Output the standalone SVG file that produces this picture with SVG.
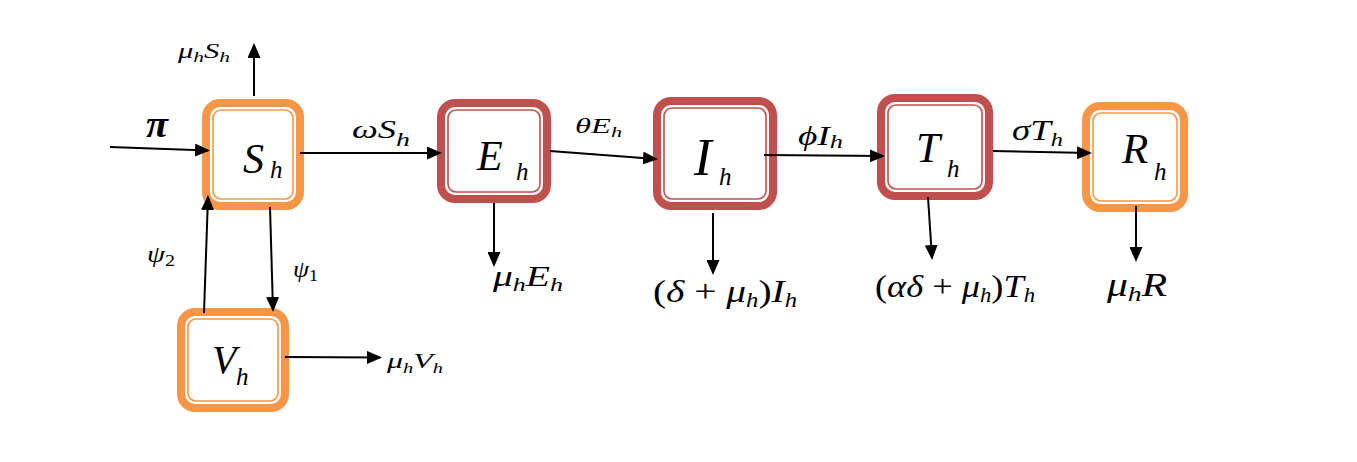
<svg xmlns="http://www.w3.org/2000/svg" width="1357" height="462" viewBox="0 0 1357 462">
<defs>
<marker id="ah" viewBox="0 0 15 13" refX="13" refY="6.5" markerWidth="15" markerHeight="13" orient="auto" markerUnits="userSpaceOnUse">
<path d="M0,0 L15,6.5 L0,13 z" fill="#000"/>
</marker>
<style>
.o{fill:#fff;stroke-width:8}
.i{fill:none;stroke-width:1.6}
.or .o,.or .i{stroke:#F79646}
.rd .o,.rd .i{stroke:#C0504D}
#connectors line{stroke:#000;stroke-width:2;marker-end:url(#ah)}
text{font-family:"Liberation Serif","Times New Roman",serif;font-style:italic;fill:#000}
.n{font-size:42px}
.ns{font-size:25px}
.up{font-style:normal}
</style>
</defs>
<rect width="1357" height="462" fill="#fff"/>
<g id="S" class="or">
<rect class="o" x="206" y="103" width="94" height="103" rx="14"/>
<rect class="i" x="213" y="110" width="80" height="89" rx="8"/>
<text x="243" y="173" class="n">S</text><text x="270" y="178" class="ns">h</text>
</g>
<g id="E" class="rd">
<rect class="o" x="441" y="103" width="106" height="96" rx="14"/>
<rect class="i" x="448" y="110" width="92" height="82" rx="8"/>
<text x="477" y="170" class="n">E</text><text x="516" y="180" class="ns">h</text>
</g>
<g id="I" class="rd">
<rect class="o" x="657" y="101" width="116" height="105" rx="14"/>
<rect class="i" x="664" y="108" width="102" height="91" rx="8"/>
<text x="694" y="175" style="font-size:53px">I</text><text x="719" y="185" class="ns">h</text>
</g>
<g id="T" class="rd">
<rect class="o" x="881" y="98" width="108" height="98" rx="14"/>
<rect class="i" x="888" y="105" width="94" height="84" rx="8"/>
<text x="916" y="162" style="font-size:43px">T</text><text x="947" y="177" class="ns">h</text>
</g>
<g id="R" class="or">
<rect class="o" x="1086" y="106" width="98" height="102" rx="14"/>
<rect class="i" x="1093" y="113" width="84" height="88" rx="8"/>
<text x="1122" y="163" style="font-size:43px">R</text><text x="1154" y="180" class="ns">h</text>
</g>
<g id="V" class="or">
<rect class="o" x="181" y="312" width="104" height="96" rx="14"/>
<rect class="i" x="188" y="319" width="90" height="82" rx="8"/>
<text x="212" y="373" style="font-size:40px">V</text><text x="236" y="385" class="ns">h</text>
</g>
<g id="connectors">
<line x1="110" y1="147" x2="208" y2="150.5"/>
<line x1="254" y1="96" x2="254" y2="45"/>
<line x1="300" y1="153" x2="440" y2="153"/>
<line x1="550" y1="151" x2="656" y2="159"/>
<line x1="764" y1="155" x2="883" y2="156"/>
<line x1="993" y1="151" x2="1090" y2="153"/>
<line x1="494" y1="203" x2="494" y2="265"/>
<line x1="713" y1="213" x2="713" y2="273"/>
<line x1="928" y1="197" x2="932" y2="258"/>
<line x1="1136" y1="206" x2="1136" y2="260"/>
<line x1="270" y1="207" x2="273" y2="310"/>
<line x1="204" y1="313" x2="208" y2="197"/>
<line x1="285" y1="357" x2="380" y2="357.5"/>
</g>
<g id="labels">
<text x="146" y="137" style="font-size:38px;font-weight:bold" textLength="22" lengthAdjust="spacingAndGlyphs">π</text>
<text x="178" y="58" style="font-size:20px" textLength="52" lengthAdjust="spacingAndGlyphs">μ<tspan font-size="14" dy="4">h</tspan><tspan dy="-4">S</tspan><tspan font-size="14" dy="4">h</tspan></text>
<text x="352" y="138" style="font-size:25px" textLength="58" lengthAdjust="spacingAndGlyphs">ωS<tspan font-size="19" dy="8">h</tspan></text>
<text x="575" y="133" style="font-size:22px" textLength="47" lengthAdjust="spacingAndGlyphs">θE<tspan font-size="15" dy="4">h</tspan></text>
<text x="798" y="145" style="font-size:27px" textLength="45" lengthAdjust="spacingAndGlyphs">ϕI<tspan font-size="19" dy="3">h</tspan></text>
<text x="1012" y="140" style="font-size:29px" textLength="51" lengthAdjust="spacingAndGlyphs">σT<tspan font-size="19" dy="6">h</tspan></text>
<text x="493" y="286" style="font-size:29px" textLength="70" lengthAdjust="spacingAndGlyphs">μ<tspan font-size="19" dy="5">h</tspan><tspan dy="-5">E</tspan><tspan font-size="19" dy="5">h</tspan></text>
<text x="653" y="302" style="font-size:32px" textLength="144" lengthAdjust="spacingAndGlyphs"><tspan class="up">(</tspan>δ <tspan class="up">+</tspan> μ<tspan font-size="20" dy="5">h</tspan><tspan dy="-5" class="up">)</tspan>I<tspan font-size="20" dy="5">h</tspan></text>
<text x="875" y="297" style="font-size:32px" textLength="160" lengthAdjust="spacingAndGlyphs"><tspan class="up">(</tspan>αδ <tspan class="up">+</tspan> μ<tspan font-size="20" dy="5">h</tspan><tspan dy="-5" class="up">)</tspan>T<tspan font-size="20" dy="5">h</tspan></text>
<text x="1107" y="296" style="font-size:33px" textLength="60" lengthAdjust="spacingAndGlyphs">μ<tspan font-size="22" dy="5">h</tspan><tspan dy="-5">R</tspan></text>
<text x="147" y="262" style="font-size:23px" textLength="28" lengthAdjust="spacingAndGlyphs">ψ<tspan font-size="16" dy="4" class="up">2</tspan></text>
<text x="293" y="277" style="font-size:23px" textLength="25" lengthAdjust="spacingAndGlyphs">ψ<tspan font-size="16" dy="4" class="up">1</tspan></text>
<text x="387" y="368" style="font-size:22px" textLength="56" lengthAdjust="spacingAndGlyphs">μ<tspan font-size="14" dy="5">h</tspan><tspan dy="-5">V</tspan><tspan font-size="14" dy="5">h</tspan></text>
</g>
</svg>
